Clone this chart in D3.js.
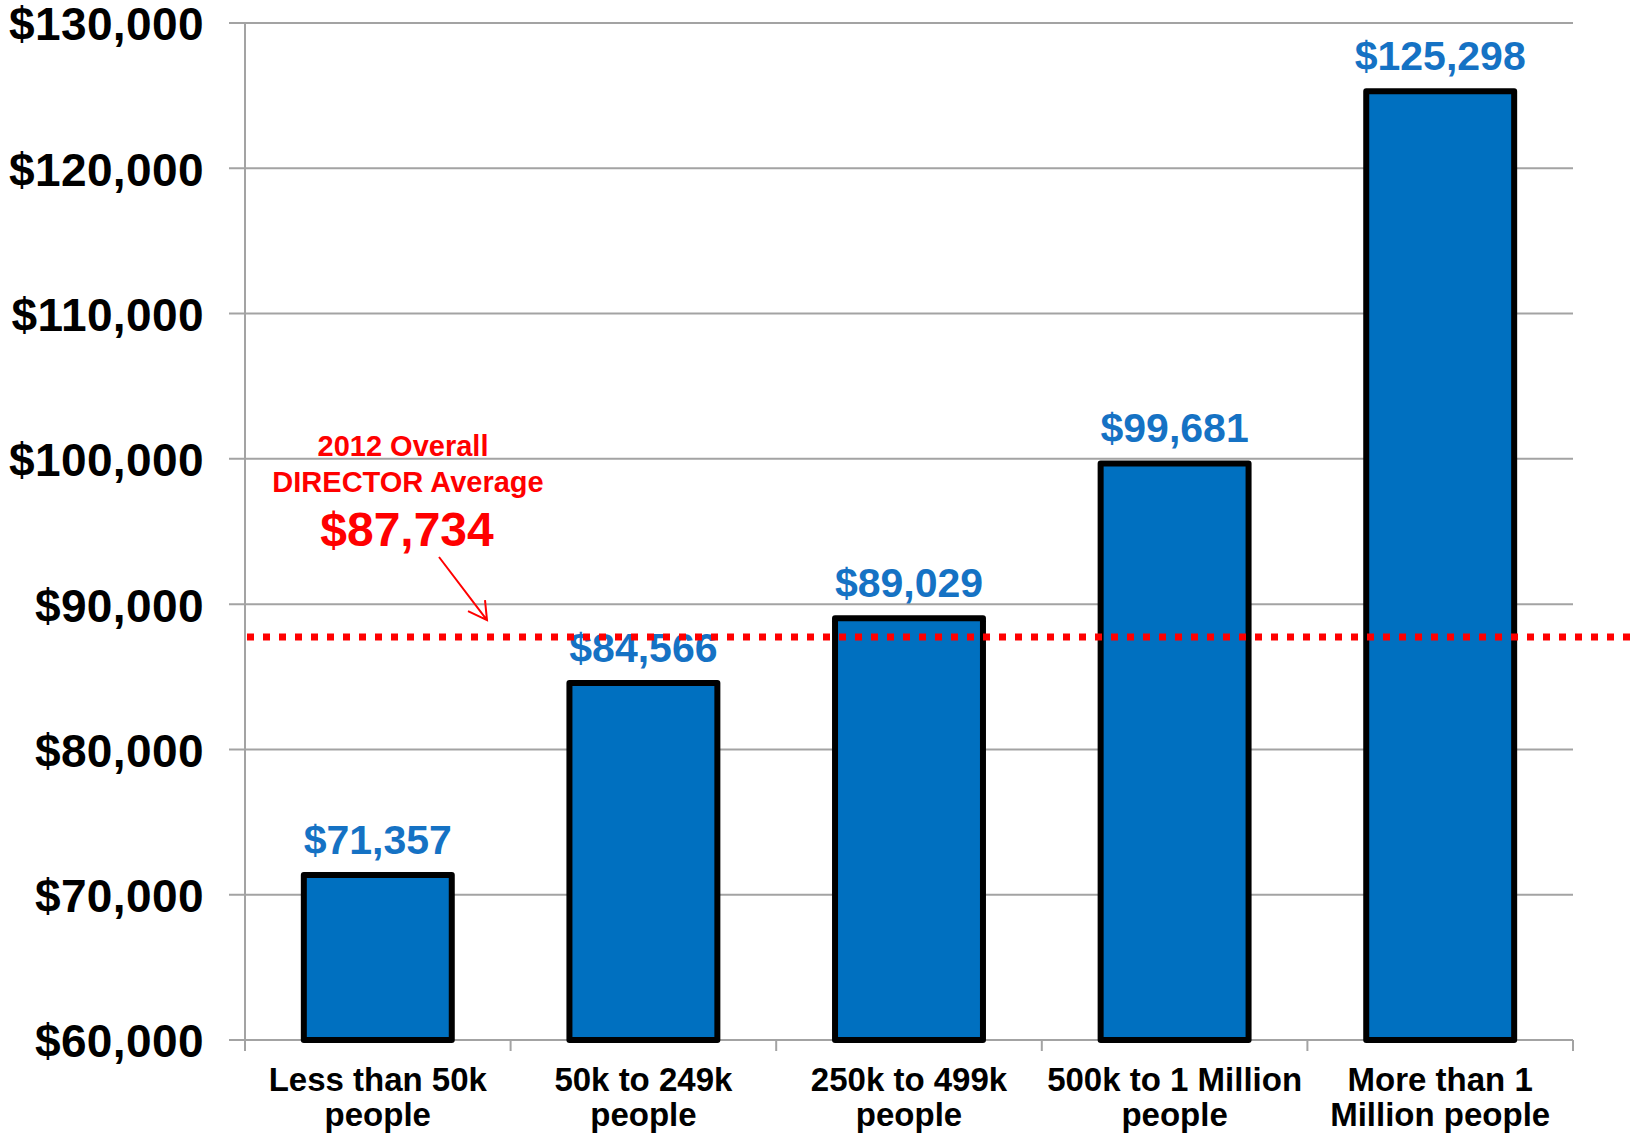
<!DOCTYPE html>
<html lang="en">
<head>
<meta charset="utf-8"/>
<title>Director salary by population</title>
<script src="https://cdn.jsdelivr.net/npm/d3@7"></script>
<style>
  html, body { margin: 0; padding: 0; background: #fff; }
  svg { display: block; font-family: "Liberation Sans", Arial, sans-serif; font-weight: bold; }
</style>
</head>
<body>
<svg id="chart" width="1632" height="1138"></svg>
<script>
// data
const categories = [
  ['Less than 50k', 'people'],
  ['50k to 249k', 'people'],
  ['250k to 499k', 'people'],
  ['500k to 1 Million', 'people'],
  ['More than 1', 'Million people']
];
const salaries = [71357, 84566, 89029, 99681, 125298];
const yTicks = [60000, 70000, 80000, 90000, 100000, 110000, 120000, 130000];
const overallAverage = 87734;
const noteLines = ['2012 Overall', 'DIRECTOR Average'];

const svg = d3.select('#chart');
const plotLeft = 245, plotRight = 1573, plotTop = 23, plotBottom = 1040;

const x = d3.scaleBand()
  .domain(d3.range(categories.length))
  .range([plotLeft, plotRight])
  .paddingInner(0.443)
  .paddingOuter(0.443 / 2);

const y = d3.scaleLinear().domain([60000, 130000]).range([plotBottom, plotTop]);
const money = d => '$' + d3.format(',')(d);

// gridlines + y labels
const grid = svg.append('g');
grid.selectAll('line')
  .data(yTicks)
  .enter()
  .append('line')
  .attr('x1', plotLeft - 16).attr('x2', plotRight)
  .attr('y1', d => y(d)).attr('y2', d => y(d))
  .attr('stroke', '#a3a3a3').attr('stroke-width', 2);

grid.selectAll('text')
  .data(yTicks)
  .enter()
  .append('text')
  .attr('x', 204)
  .attr('y', d => y(d))
  .attr('dy', '0.38em')
  .attr('text-anchor', 'end')
  .attr('font-size', 46)
  .attr('letter-spacing', 0.4)
  .attr('fill', '#000')
  .text(money);

// axis lines
svg.append('line')
  .attr('x1', plotLeft).attr('x2', plotLeft)
  .attr('y1', plotTop).attr('y2', plotBottom + 11)
  .attr('stroke', '#a3a3a3').attr('stroke-width', 2);

const step = x.step();
svg.append('g').selectAll('line')
  .data(d3.range(categories.length + 1))
  .enter()
  .append('line')
  .attr('x1', i => plotLeft + i * step).attr('x2', i => plotLeft + i * step)
  .attr('y1', plotBottom).attr('y2', plotBottom + 11)
  .attr('stroke', '#a3a3a3').attr('stroke-width', 2);

// bars
svg.append('g').selectAll('rect')
  .data(salaries)
  .enter()
  .append('rect')
  .attr('x', (d, i) => x(i))
  .attr('y', d => y(d))
  .attr('width', x.bandwidth())
  .attr('height', d => y(60000) - y(d))
  .attr('fill', '#0070c0')
  .attr('stroke', '#000')
  .attr('stroke-width', 6)
  .attr('stroke-linejoin', 'round');

// value labels
svg.append('g').selectAll('text')
  .data(salaries)
  .enter()
  .append('text')
  .attr('x', (d, i) => x(i) + x.bandwidth() / 2)
  .attr('y', d => y(d) - 21)
  .attr('text-anchor', 'middle')
  .attr('font-size', 41)
  .attr('fill', '#1572c4')
  .text(money);

// category labels
const cat = svg.append('g').selectAll('text')
  .data(categories)
  .enter()
  .append('text')
  .attr('text-anchor', 'middle')
  .attr('font-size', 33)
  .attr('fill', '#000');
cat.selectAll('tspan')
  .data((d, i) => d.map(t => ({ t, i })))
  .enter()
  .append('tspan')
  .attr('x', d => x(d.i) + x.bandwidth() / 2)
  .attr('y', (d, j) => 1091 + j * 35)
  .text(d => d.t);

// average line
svg.append('line')
  .attr('x1', 247).attr('x2', 1632)
  .attr('y1', y(overallAverage)).attr('y2', y(overallAverage))
  .attr('stroke', '#ff0000')
  .attr('stroke-width', 7)
  .attr('stroke-dasharray', '7,9');

// annotation
const note = svg.append('g').attr('fill', '#ff0000');
note.selectAll('text.note')
  .data(noteLines)
  .enter()
  .append('text')
  .attr('class', 'note')
  .attr('x', (d, i) => i === 0 ? 403 : 408)
  .attr('y', (d, i) => 456 + i * 36)
  .attr('text-anchor', 'middle')
  .attr('font-size', 29)
  .text(d => d);

note.append('text')
  .attr('x', 407)
  .attr('y', 546)
  .attr('text-anchor', 'middle')
  .attr('font-size', 48)
  .text(money(overallAverage));

const tipX = 487, tipY = y(overallAverage) - 17;
note.append('path')
  .attr('d', `M439,557 L${tipX},${tipY} M${tipX - 19},${tipY - 9} L${tipX},${tipY} L${tipX - 2},${tipY - 20}`)
  .attr('fill', 'none')
  .attr('stroke', '#ff0000')
  .attr('stroke-width', 2);
</script>
</body>
</html>
